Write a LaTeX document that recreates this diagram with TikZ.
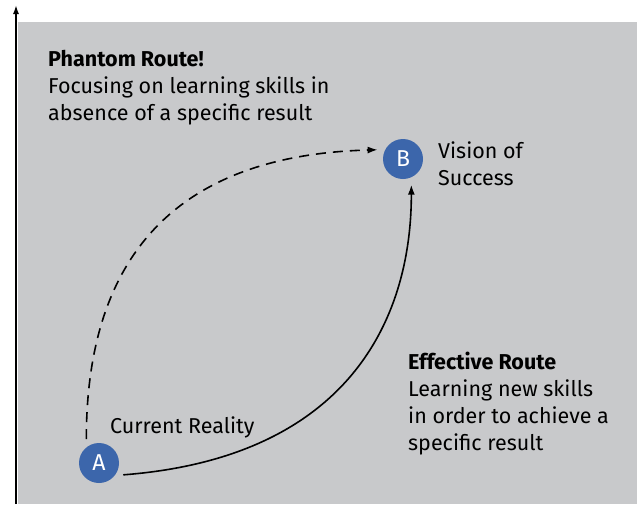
\documentclass[tikz,border=0pt]{standalone}
\usepackage{fontspec}
\setmainfont{Fira Sans}
\usetikzlibrary{arrows.meta}
\definecolor{panelgray}{HTML}{C8C9CB}
\definecolor{pointblue}{HTML}{3C66AB}
\tikzset{
  point/.style={circle, fill=pointblue, text=white, minimum size=40pt, inner sep=0pt, outer sep=7pt, font=\fontsize{23}{27}\selectfont},
  label/.style={anchor=base west, align=left, inner sep=0pt},
  route/.style={line width=1.6pt, -{Latex[length=10pt,width=7pt]}}
}
\begin{document}
\begin{tikzpicture}[x=1pt, y=-1pt, font=\fontsize{21.5}{26.8}\selectfont]
  \useasboundingbox (0,0) rectangle (644,504);
  \fill[panelgray] (18,22) rectangle (637,504);
  \draw[line width=1.6pt, -{Latex[length=9pt,width=6pt]}] (16,504) -- (16,5);
  % the two points
  \node[point] (A) at (99,463) {A};
  \node[point] (B) at (403,159) {B};
  % the routes
  \draw[route, dashed, dash pattern=on 10pt off 7pt] (A.118) .. controls +(0,-157) and +(-225,6) .. (B.160);
  \draw[route] (A.-26) .. controls +(221,-17) and +(0,139) .. (B.-72);
  % texts (anchored at the baseline of the last line)
  \node[label] (current) at (110,433) {Current Reality};
  \node[label] (vision) at (438,185) {Vision of\\Success};
  \node[label] (phantom) at (48,120) {\textbf{Phantom Route!}\\Focusing on learning skills in\\absence of a specific result};
  \node[label] (effective) at (408,450) {\textbf{Effective Route}\\Learning new skills\\in order to achieve a\\specific result};
\end{tikzpicture}
\end{document}
